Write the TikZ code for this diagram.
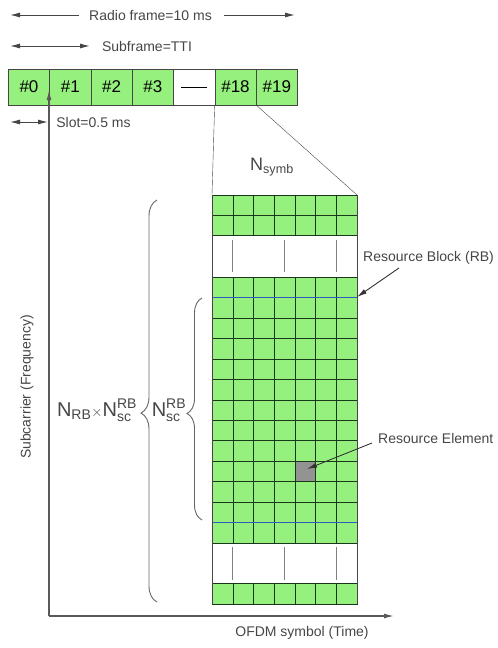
\documentclass[tikz,border=0pt]{standalone}
\usepackage{fontspec}
\setmainfont{Liberation Sans}
\usepackage{amsmath}
\usetikzlibrary{arrows.meta,decorations.pathreplacing}
\definecolor{regreen}{RGB}{150,240,125}
\definecolor{regray}{RGB}{70,70,70}
\definecolor{gridline}{RGB}{25,55,25}
\definecolor{rbblue}{RGB}{50,90,190}

\begin{document}
\begin{tikzpicture}[
    x=1pt, y=-1pt,
    >={Latex[length=10pt,width=5pt]},
    node distance=41.3pt,
    slot/.style={
        draw=regray, 
        fill=regreen, 
        minimum width=41.3pt, 
        minimum height=36pt,
        inner sep=0pt,
        font=\fontsize{17}{19}\selectfont
    },
    txt/.style={
        text=regray, 
        inner sep=0pt, 
        font=\fontsize{14}{16}\selectfont
    },
    sym/.style={
        text=regray, 
        inner sep=0pt, 
        font=\fontsize{20}{22}\selectfont
    },
    cell/.style={draw=gridline, fill=regreen},
    gapline/.style={draw=gray, thick},
    dim/.style={regray, line width=1pt},
    axisline/.style={->, gray!70!black, line width=1.3pt},
    curly/.style={decorate, gray!80!black, line width=0.9pt}
]
\useasboundingbox (0,0) rectangle (498,648);

% Frame and slots
\node [slot] (s0) at (29,87) {\#0};
\node [slot, right of=s0] (s1) {\#1};
\node [slot, right of=s1] (s2) {\#2};
\node [slot, right of=s2] (s3) {\#3};
\node [slot, fill=white, right of=s3] (gap) {\rule{26pt}{0.8pt}};
\node [slot, right of=gap] (s18) {\#18};
\node [slot, right of=s18] (s19) {\#19};

% Time labels
\node [txt] (radio) at (150.5,15) {Radio frame=10 ms};
\coordinate (rfL) at (10,15);
\coordinate (rfR) at (295,15);
\draw [dim, <-, shorten >=10pt] (rfL) -- (radio);
\draw [dim, <-, shorten >=12pt] (rfR) -- (radio);

\node [txt] (subframe) at (147,46) {Subframe=TTI};
\coordinate (sfL) at (10,46);
\coordinate (sfR) at (90,46);
\draw [dim, <->] (sfL) -- (sfR);

\node [txt] (slotlen) at (93.5,122) {Slot=0.5 ms};
\coordinate (slL) at (10,122);
\coordinate (slR) at (48,122);
\draw [dim, <->] (slL) -- (slR);

% Resource grid
\coordinate (g0) at (212,195);
\coordinate (g1) at (357,195);
\draw [regray] (s18.south west) -- (g0);
\draw [regray] (s18.south east) -- (g1);
\node [sym, font=\fontsize{18}{20}\selectfont] (nsymb) at (272,167) {$\text{N}_{\text{symb}}$};

\foreach \r in {0,1}
    \foreach \c in {0,...,6}
        \draw [cell] (212+\c*20.7,195+\r*20) rectangle ++(20.7,20);
\foreach \r in {0,...,12}
    \foreach \c in {0,...,6}
        \draw [cell] (212+\c*20.7,277+\r*20.46) rectangle ++(20.7,20.46);
\foreach \c in {0,...,6}
    \draw [cell] (212+\c*20.7,583) rectangle ++(20.7,21);
\draw [cell, fill=gray!85] (212+4*20.7,277+9*20.46) rectangle ++(20.7,20.46);
\draw [rbblue, line width=1.3pt] (212,297.5) -- (357,297.5);
\draw [rbblue, line width=1.3pt] (212,522.5) -- (357,522.5);
\draw [regray] (212,195) -- (212,604);
\draw [regray] (357,195) -- (357,604);
\foreach \x in {232.7,284.5,336.3} {
    \draw [gapline] (\x,240) -- (\x,272);
    \draw [gapline] (\x,547) -- (\x,580);
}

% Axes
\coordinate (orig) at (49,616);
\coordinate (ytop) at (49,90);
\coordinate (xend) at (394,616);
\draw [axisline] (orig) -- (ytop);
\draw [axisline] (orig) -- (xend);
\node [txt, rotate=90] (freq) at (27,387) {Subcarrier (Frequency)};
\node [txt] (time) at (302,633) {OFDM symbol (Time)};

% Braces
\coordinate (bbot) at (157,602);
\coordinate (btop) at (157,200);
\draw [curly, decoration={brace, amplitude=16pt, aspect=0.47}] (bbot) -- (btop);
\coordinate (rbbot) at (202,520);
\coordinate (rbtop) at (202,298);
\draw [curly, decoration={brace, amplitude=15pt, aspect=0.48}] (rbbot) -- (rbtop);
\node [sym] (nrbsc) at (97,410) {$\text{N}_{\text{RB}}{\scriptstyle\times}\text{N}^{\text{RB}}_{\text{sc}}$};
\node [sym] (nsc) at (169,410) {$\text{N}^{\text{RB}}_{\text{sc}}$};

% Callouts
\node [txt, anchor=west] (rblabel) at (363,258) {Resource Block (RB)};
\coordinate (rbfrom) at (399,268);
\coordinate (rbtip) at (357,297);
\draw [->, black!80, line width=0.9pt] (rbfrom) -- (rbtip);
\node [txt, anchor=west] (relabel) at (378,438) {Resource Element};
\coordinate (refrom) at (372,443);
\coordinate (retip) at (307,469);
\draw [->, black!80, line width=0.9pt] (refrom) -- (retip);

\end{tikzpicture}
\end{document}
